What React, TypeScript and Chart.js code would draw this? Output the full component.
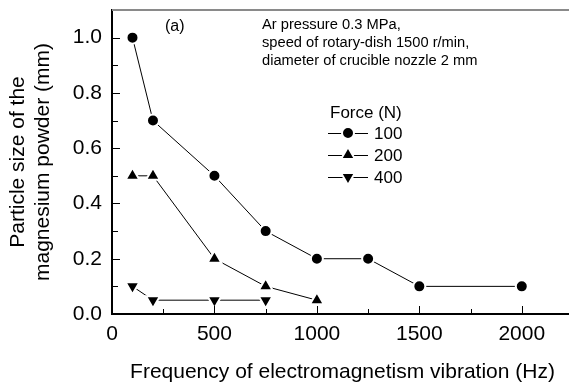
import React, { useEffect, useRef } from 'react';
import { Chart, registerables } from 'chart.js';

Chart.register(...registerables);

// ---------- data ----------
const freq100 = [100, 200, 500, 750, 1000, 1250, 1500, 2000];
const size100 = [1.0, 0.7, 0.5, 0.3, 0.2, 0.2, 0.1, 0.1];
const freq200 = [100, 200, 500, 750, 1000];
const size200 = [0.5, 0.5, 0.2, 0.1, 0.05];
const freq400 = [100, 200, 500, 750];
const size400 = [0.1, 0.05, 0.05, 0.05];
const forceLabels = ['100', '200', '400'];
const legendTitle = 'Force (N)';
const panelLabel = '(a)';
const noteLines = [
  'Ar pressure 0.3 MPa,',
  'speed of rotary-dish 1500 r/min,',
  'diameter of crucible nozzle 2 mm',
];
const xTitle = 'Frequency of electromagnetism vibration (Hz)';
const yTitle = ['Particle size of the', 'magnesium powder (mm)'];
const xTickValues = [0, 500, 1000, 1500, 2000];
const yTickValues = [0, 0.2, 0.4, 0.6, 0.8, 1.0];
const xMinorTicks = [250, 750, 1250, 1750];
const yMinorTicks = [0.1, 0.3, 0.5, 0.7, 0.9];

// ---------- styles ----------
const FONT = '"Liberation Sans", Arial, Helvetica, sans-serif';
const markerStyles = ['circle', 'triangle', 'triangleDown'];
const markerRadius = [6, 8, 8]; // includes a 2px white halo
const HALO = 2;

function toPoints(xs: number[], ys: number[]) {
  return xs.map((x, i) => ({ x, y: ys[i] }));
}

function drawMarker(ctx: CanvasRenderingContext2D, style: string, x: number, y: number, r: number) {
  ctx.beginPath();
  if (style === 'circle') {
    ctx.arc(x, y, r, 0, Math.PI * 2);
  } else {
    const d = style === 'triangleDown' ? -1 : 1;
    ctx.moveTo(x, y - d * r);
    ctx.lineTo(x + r * 0.866, y + (d * r) / 2);
    ctx.lineTo(x - r * 0.866, y + (d * r) / 2);
  }
  ctx.closePath();
  ctx.fillStyle = '#000';
  ctx.fill();
  ctx.strokeStyle = '#fff';
  ctx.lineWidth = HALO;
  ctx.stroke();
}

const overlay = {
  id: 'overlay',
  afterDraw(chart: any) {
    const { ctx, chartArea: a, scales } = chart;
    const xs = scales.x;
    const ys = scales.y;
    ctx.save();
    // top frame line
    ctx.strokeStyle = '#8a8a8a';
    ctx.lineWidth = 2;
    ctx.beginPath();
    ctx.moveTo(a.left, a.top);
    ctx.lineTo(a.right + 5, a.top);
    ctx.stroke();

    // inward ticks
    ctx.strokeStyle = '#000';
    ctx.lineWidth = 1;
    const vtick = (v: number, len: number) => {
      const px = Math.round(xs.getPixelForValue(v)) + 0.5;
      ctx.beginPath();
      ctx.moveTo(px, a.bottom);
      ctx.lineTo(px, a.bottom - len);
      ctx.stroke();
    };
    const htick = (v: number, len: number) => {
      const py = Math.round(ys.getPixelForValue(v)) + 0.5;
      ctx.beginPath();
      ctx.moveTo(a.left, py);
      ctx.lineTo(a.left + len, py);
      ctx.stroke();
    };
    xs.ticks.forEach((t: any) => { if (t.value > 0) vtick(t.value, 8); });
    xMinorTicks.forEach((v) => vtick(v, 5));
    ys.ticks.forEach((t: any) => { if (t.value > 0) htick(t.value, 8); });
    yMinorTicks.forEach((v) => htick(v, 6));

    // texts
    ctx.fillStyle = '#000';
    ctx.textAlign = 'left';
    ctx.textBaseline = 'alphabetic';
    ctx.font = `16px ${FONT}`;
    ctx.fillText(panelLabel, 165, 30.5);
    ctx.font = `14.7px ${FONT}`;
    noteLines.forEach((l, i) => ctx.fillText(l, 262, 28.5 + i * 18));

    // legend
    ctx.font = `17px ${FONT}`;
    ctx.textBaseline = 'middle';
    ctx.fillText(legendTitle, 330, 113);
    forceLabels.forEach((lab, i) => {
      const yy = 133 + i * 22;
      ctx.strokeStyle = '#000';
      ctx.lineWidth = 1;
      ctx.beginPath();
      ctx.moveTo(328, yy + 0.5);
      ctx.lineTo(368, yy + 0.5);
      ctx.stroke();
      drawMarker(ctx, markerStyles[i], 348, yy, markerRadius[i]);
      ctx.fillStyle = '#000';
      ctx.fillText(lab, 374, yy + 1);
    });
    ctx.restore();
  },
};

export default function App() {
  const ref = useRef<HTMLCanvasElement>(null);
  useEffect(() => {
    if (!ref.current) return;
    const seriesX = [freq100, freq200, freq400];
    const seriesY = [size100, size200, size400];
    const datasets = forceLabels.map((lab, i) => ({
      label: lab,
      data: toPoints(seriesX[i], seriesY[i]),
      borderColor: '#000',
      backgroundColor: '#000',
      borderWidth: 1,
      pointStyle: markerStyles[i] === 'circle' ? 'circle' : 'triangle',
      rotation: markerStyles[i] === 'triangleDown' ? 180 : 0,
      pointRadius: markerRadius[i],
      pointBorderWidth: HALO,
      pointBorderColor: '#fff',
      pointBackgroundColor: '#000',
      tension: 0,
      clip: false as any,
    }));
    const chart = new Chart(ref.current, {
      type: 'line',
      data: { datasets },
      plugins: [overlay],
      options: {
        animation: false,
        responsive: false,
        devicePixelRatio: 1,
        layout: { padding: { top: 7, right: 27, bottom: 0, left: 0 } },
        plugins: { legend: { display: false }, tooltip: { enabled: false } },
        scales: {
          x: {
            type: 'linear',
            min: 0,
            max: 2250,
            grid: { display: false, drawTicks: false },
            border: { display: true, color: '#000', width: 2 },
            ticks: {
              padding: 8,
              color: '#000',
              maxRotation: 0,
              autoSkip: false,
              font: { family: FONT, size: 21 },
              callback: (v: any) => String(v),
            },
            title: {
              display: true,
              text: xTitle,
              color: '#000',
              font: { family: FONT, size: 21, lineHeight: 1.2 },
              padding: { top: 0, bottom: 0 },
            },
            afterBuildTicks: (s: any) => { s.ticks = xTickValues.map((value) => ({ value })); },
            afterFit: (s: any) => { s.height = 71; s.paddingLeft = 0; s.paddingRight = 0; },
          },
          y: {
            type: 'linear',
            min: 0,
            max: 1.1,
            grid: { display: false, drawTicks: false },
            border: { display: true, color: '#000', width: 2 },
            ticks: {
              padding: 10,
              color: '#000',
              autoSkip: false,
              font: { family: FONT, size: 21 },
              callback: (v: any) => Number(v).toFixed(1),
            },
            title: {
              display: true,
              text: yTitle,
              color: '#000',
              font: { family: FONT, size: 21, lineHeight: 1.19 },
              padding: { top: 5.5, bottom: 0 },
            },
            afterBuildTicks: (s: any) => { s.ticks = yTickValues.map((value) => ({ value })); },
            afterFit: (s: any) => { s.width = 112; s.paddingTop = 0; s.paddingBottom = 0; },
          },
        },
      },
    });
    return () => chart.destroy();
  }, []);
  return (
    <div style={{ position: 'fixed', left: 0, top: 0, width: 569, height: 385, overflow: 'hidden', background: '#fff' }}>
      <canvas ref={ref} width={600} height={385} style={{ display: 'block' }} />
    </div>
  );
}
